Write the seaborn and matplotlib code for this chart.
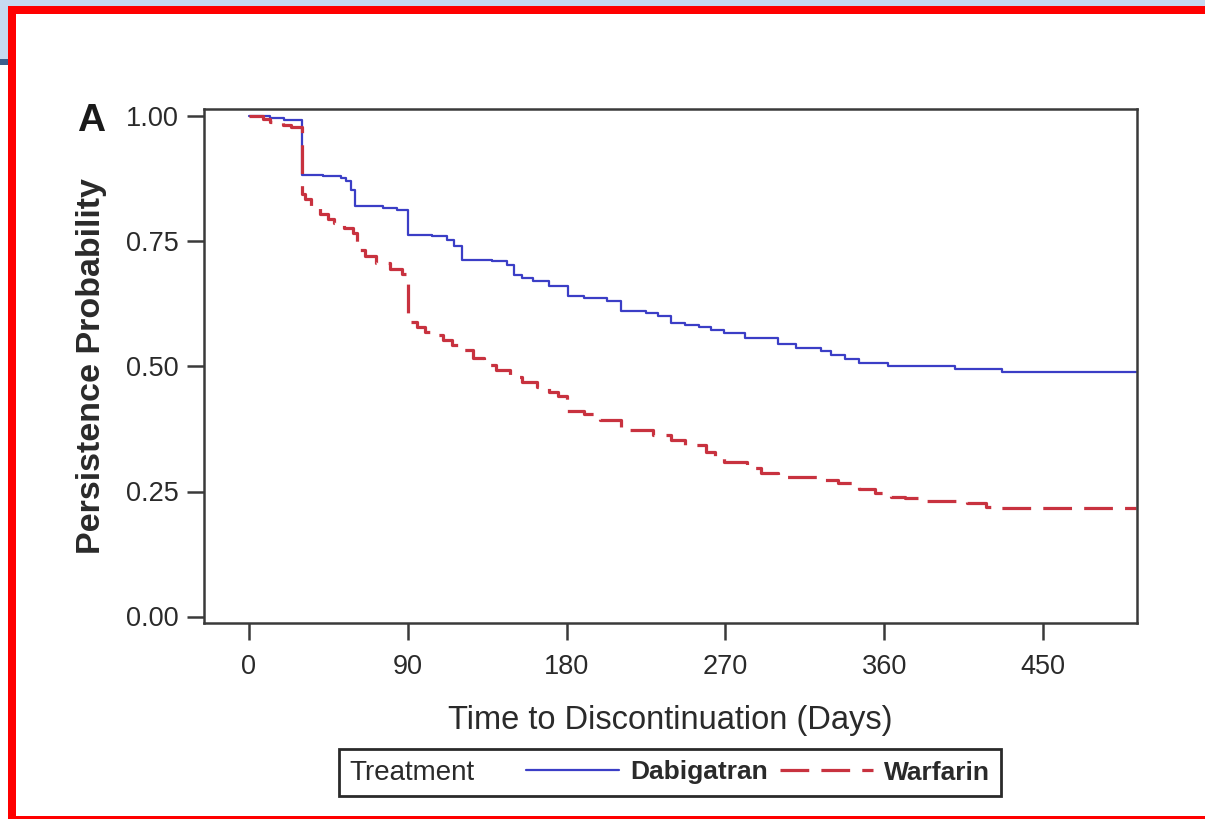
import matplotlib
matplotlib.use("Agg")
import matplotlib.pyplot as plt
from matplotlib.patches import Rectangle
from matplotlib.offsetbox import DrawingArea
import seaborn as sns
import pandas as pd

# ---- data (Kaplan-Meier step points) ----
dabi_days = [0, 12, 20, 30, 42, 52, 55, 58, 60, 76, 84, 90, 104, 112, 116, 121,
             138, 146, 150, 155, 161, 170, 181, 190, 203, 211, 225, 232, 239, 247,
             255, 262, 269, 281, 300, 310, 324, 330, 338, 346, 362, 400, 427, 503]
dabi_prob = [1.000, 0.996, 0.992, 0.883, 0.881, 0.876, 0.870, 0.853, 0.821, 0.817,
             0.813, 0.763, 0.760, 0.753, 0.740, 0.713, 0.710, 0.703, 0.683, 0.676,
             0.670, 0.661, 0.640, 0.636, 0.630, 0.611, 0.607, 0.600, 0.587, 0.583,
             0.578, 0.572, 0.567, 0.557, 0.545, 0.537, 0.530, 0.523, 0.515, 0.507,
             0.501, 0.495, 0.489, 0.489]

warf_days = [0, 8, 12, 19, 24, 30, 32, 35, 40, 45, 48, 54, 59, 61, 66, 72, 80, 87,
             90, 95, 100, 104, 110, 115, 120, 127, 133, 140, 148, 155, 163, 170,
             175, 180, 190, 199, 211, 229, 239, 247, 259, 264, 269, 282, 290, 300,
             324, 334, 346, 355, 364, 372, 382, 407, 418, 423, 503]
warf_prob = [1.000, 0.995, 0.988, 0.982, 0.978, 0.845, 0.835, 0.818, 0.805, 0.795,
             0.786, 0.776, 0.766, 0.732, 0.720, 0.706, 0.695, 0.684, 0.589, 0.578,
             0.568, 0.563, 0.552, 0.542, 0.533, 0.517, 0.503, 0.492, 0.479, 0.469,
             0.459, 0.448, 0.440, 0.412, 0.405, 0.393, 0.373, 0.363, 0.353, 0.343,
             0.329, 0.318, 0.309, 0.297, 0.288, 0.279, 0.273, 0.267, 0.255, 0.247,
             0.239, 0.237, 0.231, 0.227, 0.219, 0.217, 0.217]

x_ticks = [0, 90, 180, 270, 360, 450]
y_ticks = [0.00, 0.25, 0.50, 0.75, 1.00]
series_names = ["Dabigatran", "Warfarin"]

# ---- style ----
sns.set_theme(style="white")
plt.rcParams["font.family"] = ["Liberation Sans", "DejaVu Sans"]

W, H = 1205, 819
fig = plt.figure(figsize=(W / 100, H / 100), dpi=100)
fig.patch.set_facecolor("white")

# frame decorations of the screenshot
def rect(x0, y0, x1, y1, color):
    fig.add_artist(Rectangle((x0 / W, 1 - y1 / H), (x1 - x0) / W, (y1 - y0) / H,
                             transform=fig.transFigure, color=color, lw=0, zorder=-5))

rect(0, 0, W, 6, "#c6d9f0")
rect(0, 0, 8, 59, "#c6d9f0")
rect(0, 59, 8, 65, "#3d5f8c")
rect(8, 6, W, 14, "#ff0000")
rect(8, 6, 16, H, "#ff0000")
rect(8, 816, W, H, "#ff0000")

ax = fig.add_axes([204 / W, 1 - 623 / H, (1137 - 204) / W, (623 - 109) / H])

df_d = pd.DataFrame({"day": dabi_days, "prob": dabi_prob})
df_w = pd.DataFrame({"day": warf_days, "prob": warf_prob})

blue = "#3b3ec6"
red = "#c8323f"
sns.lineplot(data=df_d, x="day", y="prob", ax=ax, color=blue, lw=1.6,
             drawstyle="steps-post", estimator=None, sort=False,
             label=series_names[0])
sns.lineplot(data=df_w, x="day", y="prob", ax=ax, color=red, lw=2.3,
             drawstyle="steps-post", estimator=None, sort=False,
             dashes=False, label=series_names[1])
ax.get_lines()[1].set_dashes((9, 3.8))
if ax.get_legend() is not None:
    ax.get_legend().remove()

ax.set_xlim(-25.5, 503.3)
ax.set_ylim(-0.013, 1.015)
ax.set_xticks(x_ticks)
ax.set_xticklabels([str(t) for t in x_ticks])
ax.set_yticks(y_ticks)
ax.set_yticklabels([f"{t:.2f}" for t in y_ticks])

tick_col = "#2a2a2a"
ax.tick_params(axis="both", which="major", direction="out", length=12, width=1.8,
               color="#3a3a3a", labelsize=19.5, labelcolor=tick_col,
               bottom=True, left=True)
ax.tick_params(axis="x", pad=10)
ax.tick_params(axis="y", pad=6)
for s in ax.spines.values():
    s.set_visible(True)
    s.set_color("#3a3a3a")
    s.set_linewidth(1.8)

ax.set_xlabel("Time to Discontinuation (Days)", fontsize=23.5, color=tick_col,
              labelpad=18)
ax.set_ylabel("Persistence Probability", fontsize=24.5, fontweight="bold",
              color=tick_col, labelpad=14)

fig.text(77 / W, 1 - 131 / H, "A", fontsize=28, fontweight="bold",
         color="#1a1a1a", ha="left", va="baseline")

# legend below the axes, title inline
handles, labels = ax.get_legend_handles_labels()
leg = fig.legend(handles, labels, title="Treatment", ncol=2, loc="center",
                 bbox_to_anchor=(670 / W, 1 - 772.5 / H),
                 prop={"size": 19, "weight": "bold"}, title_fontsize=20,
                 handlelength=3.5, handletextpad=0.45, columnspacing=0.45,
                 borderpad=0.4, fancybox=False, framealpha=1,
                 edgecolor="#2a2a2a", frameon=True)
leg.get_frame().set_linewidth(2)
for t in leg.get_texts():
    t.set_color(tick_col)
leg.get_title().set_color(tick_col)
box = leg.get_children()[0]
title_box = box.get_children()[0]
hpack = box.get_children()[1]
box._children = [hpack]
hpack._children = [title_box, DrawingArea(20, 1)] + hpack.get_children()

fig.savefig("out.png", dpi=100, facecolor="white")
